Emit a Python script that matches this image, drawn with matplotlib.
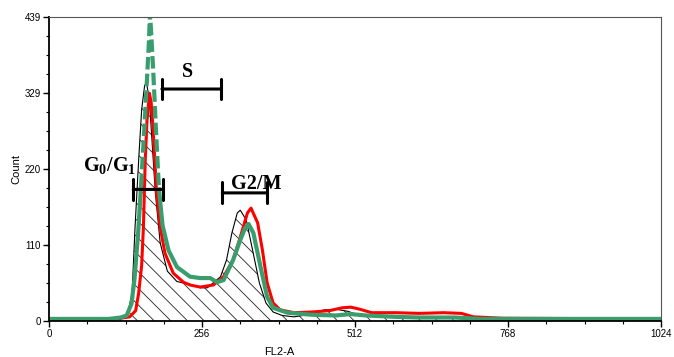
import numpy as np
import matplotlib
matplotlib.use("Agg")
import matplotlib.pyplot as plt
from matplotlib.ticker import MultipleLocator, FixedLocator

# ---- data ----
black_x = [0, 100, 118, 125, 132, 139, 144, 150, 155, 160, 163, 166, 169, 178, 186, 198, 214,
           236, 253, 265, 287, 297, 306, 315, 320, 330, 340, 352, 363, 375, 390, 410, 440, 460,
           480, 500, 520, 560, 600, 660, 700, 760, 1024]
black_y = [0, 1, 2, 5, 12, 40, 136, 232, 305, 340, 344, 330, 305, 185, 113, 72, 57,
           53, 48, 48, 64, 88, 127, 156, 160, 146, 105, 55, 26, 13, 8, 6, 10, 16,
           17, 14, 8, 6, 5, 5, 4, 2, 1]

red_x = [0, 100, 120, 135, 145, 150, 155, 158, 161, 164, 168, 171, 174, 180, 186, 194, 208, 225,
         236, 253, 275, 292, 308, 320, 332, 338, 349, 357, 365, 375, 387, 410, 440, 470, 490,
         505, 520, 540, 580, 620, 660, 690, 710, 760, 1024]
red_y = [2, 3, 4, 6, 15, 40, 80, 136, 232, 290, 329, 315, 280, 185, 136, 98, 69, 56,
         52, 49, 52, 64, 88, 121, 156, 163, 142, 103, 55, 26, 16, 12, 13, 15, 19,
         20, 17, 12, 12, 11, 12, 11, 6, 4, 3]

green_x = [0, 100, 120, 130, 138, 143, 149, 154, 160, 164, 167, 169, 172, 175, 179, 184, 190,
           200, 214, 236, 253, 270, 281, 292, 308, 320, 328, 334, 342, 354, 365, 375, 399,
           440, 480, 504, 530, 580, 620, 680, 720, 1024]
green_y = [3, 3, 5, 8, 25, 60, 125, 195, 285, 350, 400, 445, 400, 350, 275, 190, 138,
           102, 78, 64, 62, 62, 56, 59, 88, 117, 134, 140, 127, 78, 35, 19, 12,
           9, 8, 10, 8, 6, 5, 5, 3, 3]

x_ticks = [0, 256, 512, 768, 1024]
y_ticks = [0, 110, 220, 329, 439]

# gate bars: (label, x_start, x_end, y, label_x, label_y)
gates = [
    ("S", 189, 288, 335, 231, 360),
    (r"G$_\mathregular{0}$/G$_\mathregular{1}$", 141, 190, 190, 102, 224),
    ("G2/M", 290, 365, 185, 347, 198),
]

# ---- figure ----
plt.rcParams['mathtext.fontset'] = 'custom'
plt.rcParams['mathtext.rm'] = 'Liberation Serif:bold'
plt.rcParams['mathtext.bf'] = 'Liberation Serif:bold'
plt.rcParams['hatch.linewidth'] = 0.6

fig = plt.figure(figsize=(6.74, 3.57), dpi=100)
ax = fig.add_axes([49/674, 36/357, 612/674, 304/357])

bx = np.array(black_x); by = np.array(black_y)
ax.fill_between(bx, 0, by, facecolor="white", edgecolor="#222222", hatch="\\\\", linewidth=0)
ax.plot(bx, by, color="black", lw=0.8)

ax.plot(red_x, red_y, color="#ff0000", lw=2.2)

gx = np.array(green_x); gy = np.array(green_y, dtype=float)
peak = (gy > 210) & (gx < 200)
idx = np.where(peak)[0]
lo, hi = idx[0] - 1, idx[-1] + 1
solid_y = gy.copy()
solid_y[lo + 1:hi] = np.nan
ax.plot(gx, solid_y, color="#3a9d6e", lw=3.0, solid_joinstyle="round")
ax.plot(gx[lo:hi + 1], gy[lo:hi + 1], color="#3a9d6e", lw=3.0, dashes=(3, 1))

for lab, x0, x1, yv, lx, ly in gates:
    ax.annotate("", xy=(x0, yv), xytext=(x1, yv),
                arrowprops=dict(arrowstyle="|-|,widthA=0.75,widthB=0.75", lw=2.2, color="black",
                                shrinkA=0, shrinkB=0))
    ax.text(lx, ly, lab, ha="center", va="center", fontsize=14.5, fontweight="bold",
            family="Liberation Serif", color="black")

ax.set_xlim(0, 1024)
ax.set_ylim(0, 439)
ax.xaxis.set_major_locator(FixedLocator(x_ticks))
ax.yaxis.set_major_locator(FixedLocator(y_ticks))
ax.xaxis.set_minor_locator(MultipleLocator(64))
ax.yaxis.set_minor_locator(MultipleLocator(439 / 16))
ax.tick_params(which="major", direction="out", length=4, width=1, labelsize=7, pad=2)
ax.tick_params(which="minor", direction="out", length=2.5, width=0.8)
for lab in ax.get_xticklabels() + ax.get_yticklabels():
    lab.set_family("Liberation Sans")
for s in ["left", "bottom"]:
    ax.spines[s].set_linewidth(1.3)
for s in ["top", "right"]:
    ax.spines[s].set_linewidth(0.8)
    ax.spines[s].set_color("#555555")

ax.set_xlabel("FL2-A", fontsize=8, family="Liberation Sans", labelpad=2)
ax.xaxis.set_label_coords(0.376, -0.085)
ax.set_ylabel("Count", fontsize=8, family="Liberation Sans", labelpad=2)

fig.savefig("out.png", dpi=100)
